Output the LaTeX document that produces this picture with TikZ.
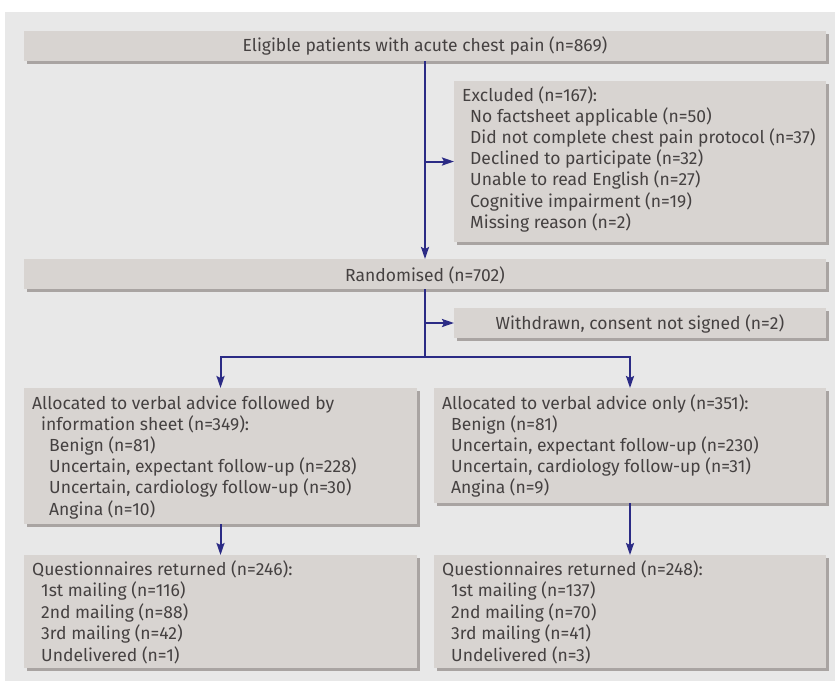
\documentclass[tikz,border=0pt]{standalone}
\usepackage{fontspec}
\IfFontExistsTF{Fira Sans Book}{\setmainfont{Fira Sans Book}}{\setmainfont{Fira Sans}}
\usetikzlibrary{shadows,arrows.meta}
\definecolor{panel}{HTML}{E8E8E8}
\definecolor{boxfill}{HTML}{D8D4D1}
\definecolor{boxshadow}{HTML}{A9A4A2}
\definecolor{navy}{HTML}{2B2B85}
\definecolor{txtc}{HTML}{454141}
\begin{document}
\begin{tikzpicture}[x=1pt,y=-1pt,
  box/.style={fill=boxfill, draw=none, anchor=north west, inner sep=0pt, outer sep=0pt,
    drop shadow={shadow xshift=3pt, shadow yshift=-3pt, fill=boxshadow, opacity=1}},
  txt/.style={anchor=base west, inner sep=0pt, text=txtc, font=\fontsize{17.5}{21}\selectfont},
  arr/.style={draw=navy, line width=2pt, -{Stealth[length=12pt,width=8pt,inset=2pt]}},
  ln/.style={draw=navy, line width=2pt}]
\fill[white] (0,0) rectangle (835,681);
\useasboundingbox (0,0) rectangle (835,681);
\fill[panel] (5,12) rectangle (835,681);

% boxes
\node[box, minimum width=802pt, minimum height=30pt] (elig) at (24,31) {};
\node[box, minimum width=372pt, minimum height=161pt] (excl) at (454,81) {};
\node[box, minimum width=802pt, minimum height=30pt] (rand) at (24,259) {};
\node[box, minimum width=372pt, minimum height=30pt] (withd) at (454,308) {};
\node[box, minimum width=393pt, minimum height=136pt] (allocL) at (24,388) {};
\node[box, minimum width=392pt, minimum height=115pt] (allocR) at (434,388) {};
\node[box, minimum width=393pt, minimum height=113pt] (qL) at (24,555) {};
\node[box, minimum width=392pt, minimum height=113pt] (qR) at (434,555) {};

% connectors
\coordinate (split) at (425,357);
\draw[arr] (elig.south) -- (rand.north);
\draw[arr] (elig.south |- excl.west) -- (excl.west);
\draw[ln] (rand.south) -- (split);
\draw[arr] (rand.south |- withd.west) -- (withd.west);
\draw[arr] (split) -| (allocL.north);
\draw[arr] (split) -| (allocR.north);
\draw[arr] (allocL.south) -- (qL.north);
\draw[arr] (allocR.south) -- (qR.north);

% texts
\node[txt, anchor=base] (telig) at (425,51) {Eligible patients with acute chest pain (n=869)};
\node[txt] (texcl0) at (462,101) {Excluded (n=167):};
\foreach \t [count=\i] in {No factsheet applicable (n=50), Did not complete chest pain protocol (n=37), Declined to participate (n=32), Unable to read English (n=27), Cognitive impairment (n=19), Missing reason (n=2)}
  \node[txt] (texcl\i) at (470,{101+21.2*\i}) {\t};
\node[txt, anchor=base] (trand) at (425,281) {Randomised (n=702)};
\node[txt, anchor=base] (twithd) at (640,329) {Withdrawn, consent not signed (n=2)};

\node[txt] (tal0) at (32,409) {Allocated to verbal advice followed by};
\node[txt] (tal1) at (41,430.2) {information sheet (n=349):};
\foreach \t [count=\i] in {Benign (n=81), {Uncertain, expectant follow-up (n=228)}, {Uncertain, cardiology follow-up (n=30)}, Angina (n=10)}
  \node[txt] (tals\i) at (49,{430.2+21.2*\i}) {\t};

\node[txt] (tar0) at (442,409) {Allocated to verbal advice only (n=351):};
\foreach \t [count=\i] in {Benign (n=81), {Uncertain, expectant follow-up (n=230)}, {Uncertain, cardiology follow-up (n=31)}, Angina (n=9)}
  \node[txt] (tars\i) at (451,{409+21.2*\i}) {\t};

\node[txt] (tql0) at (32,575) {Questionnaires returned (n=246):};
\foreach \t [count=\i] in {1st mailing (n=116), 2nd mailing (n=88), 3rd mailing (n=42), Undelivered (n=1)}
  \node[txt] (tqls\i) at (41,{575+21.5*\i}) {\t};

\node[txt] (tqr0) at (442,575) {Questionnaires returned (n=248):};
\foreach \t [count=\i] in {1st mailing (n=137), 2nd mailing (n=70), 3rd mailing (n=41), Undelivered (n=3)}
  \node[txt] (tqrs\i) at (451,{575+21.5*\i}) {\t};
\end{tikzpicture}
\end{document}
